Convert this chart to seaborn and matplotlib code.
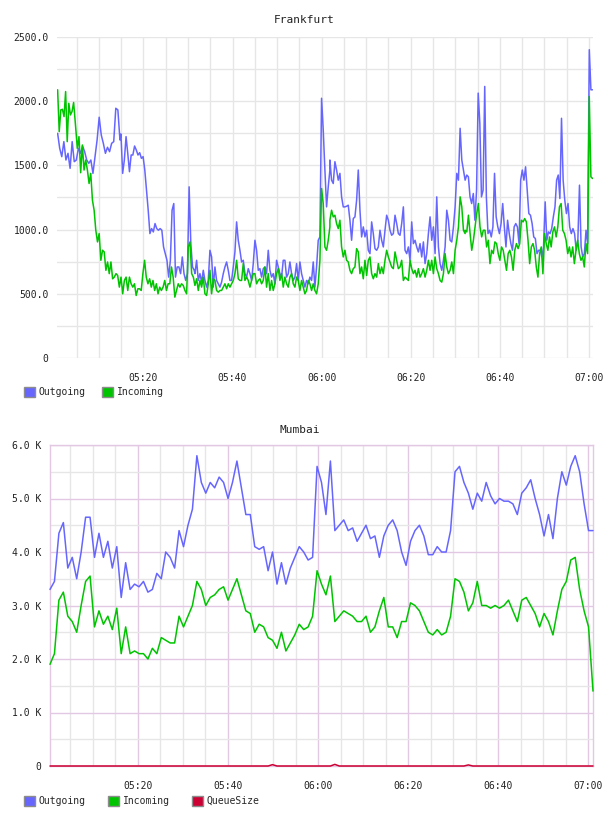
import numpy as np
import pandas as pd
import matplotlib
matplotlib.use("Agg")
import matplotlib.pyplot as plt
import matplotlib.dates as mdates
from matplotlib.ticker import MultipleLocator, FuncFormatter
from matplotlib.patches import Patch
import seaborn as sns

# ---------------- data ----------------
fra_title = "Frankfurt"
mum_title = "Mumbai"
series_names = ["Outgoing", "Incoming", "QueueSize"]
series_colors = ["#6666ff", "#00c400", "#cc0033"]

# Frankfurt: readings in segments, each with (first, last) minute after 05:00
fra_out_1a_span = (0.74, 14.73)
fra_out_1a = [1750, 1633, 1568, 1685, 1542, 1594, 1477, 1685, 1529, 1542,
              1633, 1594, 1651, 1607, 1542, 1516, 1542, 1438, 1568, 1698,
              1875, 1737, 1672, 1594, 1641, 1607, 1672, 1685, 1945, 1932, 1698]
fra_out_1b_span = (14.95, 31.4)
fra_out_1b = [1745, 1438, 1542, 1724, 1594, 1451, 1581, 1581, 1651, 1620, 1581,
              1599, 1555, 1568, 1464, 1307, 1151, 969, 1008, 982, 1047, 1008, 995,
              1008, 995, 865, 813, 761, 630, 761, 1151, 1203, 630, 709, 709, 657,
              787, 657, 604, 657, 1333, 891, 709, 683]
fra_in_1a_span = (0.74, 4.33)
fra_in_1a = [2089, 1763, 1932, 1937, 1880, 2075, 1685, 1984, 1893, 1919, 1990]
fra_in_1b_span = (4.78, 31.2)
fra_in_1b = [1802, 1633, 1724, 1443, 1659, 1464, 1542, 1464, 1359, 1438, 1229,
             1151, 995, 904, 969, 761, 839, 826, 683, 748, 657, 748, 617, 630, 657,
             643, 552, 630, 500, 604, 630, 526, 630, 578, 552, 578, 487, 539, 539,
             526, 657, 761, 630, 578, 617, 552, 604, 526, 578, 500, 552, 526, 552,
             604, 526, 578, 578, 709, 630, 474, 526, 578, 552, 578, 565, 526, 500,
             865, 904, 657, 630]

fra_2_span = (31.56, 61.85)
fra_out_2 = [657, 761, 604, 657, 591, 683, 604, 552, 604, 839, 787, 552, 709, 604,
             578, 552, 591, 657, 709, 748, 683, 604, 604, 709, 826, 1060, 917, 839,
             748, 761, 657, 630, 696, 657, 604, 735, 917, 839, 683, 696, 630, 696,
             709, 657, 839, 683, 630, 657, 578, 761, 709, 657, 630, 761, 761, 630,
             657, 748, 657, 604, 630, 735, 604, 748, 657, 604, 552, 604, 578, 630,
             604, 748, 552, 709, 917, 943, 2023, 1776, 1464, 1177, 1333, 1464]
fra_in_2 = [565, 617, 526, 604, 552, 630, 500, 487, 578, 683, 500, 617, 604, 526,
            513, 526, 526, 552, 578, 539, 578, 552, 578, 604, 657, 761, 617, 604,
            604, 735, 604, 630, 604, 552, 604, 657, 657, 578, 604, 617, 578, 604,
            709, 552, 657, 526, 604, 526, 578, 657, 696, 604, 657, 552, 630, 578,
            552, 630, 657, 578, 552, 630, 604, 526, 604, 552, 500, 526, 604, 578,
            526, 578, 526, 500, 578, 761, 1320, 1203, 865, 839, 917, 1021]

fra_3_span = (61.85, 92.2)
fra_out_3 = [1542, 1385, 1359, 1529, 1464, 1385, 1438, 1255, 1177, 1177, 1182, 1190,
             1073, 917, 1086, 1099, 1229, 1464, 1151, 943, 1021, 943, 995, 839, 813,
             1060, 969, 852, 839, 865, 995, 917, 865, 995, 1112, 1073, 995, 956, 969,
             1112, 1047, 969, 956, 1047, 1177, 839, 813, 865, 761, 1060, 891, 917, 865,
             826, 891, 787, 904, 735, 813, 969, 1099, 917, 1021, 813, 1255, 865, 735,
             683, 761, 865, 1151, 1073, 917, 904, 1021, 1177, 1438, 1385, 1789, 1542,
             1464, 1385]
fra_in_3 = [1073, 1151, 1099, 1112, 1047, 1008, 1073, 865, 787, 839, 761, 748, 683,
            657, 696, 709, 852, 826, 657, 709, 617, 761, 643, 761, 787, 657, 617, 657,
            630, 735, 657, 709, 657, 761, 839, 787, 748, 709, 696, 826, 761, 696, 709,
            761, 604, 630, 617, 604, 761, 696, 657, 683, 630, 696, 630, 657, 696, 630,
            683, 761, 683, 761, 657, 787, 696, 657, 604, 591, 657, 813, 709, 657, 683,
            748, 657, 839, 917, 1021, 1255, 1177, 995, 969]

fra_4_span = (92.2, 120.8)
fra_out_4 = [1385, 1425, 1411, 1255, 1203, 1281, 1073, 1307, 2063, 1828, 1255, 1307,
             2115, 1255, 969, 995, 943, 1021, 1438, 1099, 1021, 969, 1047, 1203, 1021,
             865, 1073, 969, 891, 839, 1021, 1047, 1021, 891, 1385, 1464, 1385, 1489,
             1307, 1125, 1112, 1047, 943, 930, 813, 839, 839, 787, 865, 1216, 917, 982,
             969, 1008, 1099, 1177, 1385, 1425, 1242, 1867, 1385, 1229, 1125, 1203,
             1021, 969, 1008, 969, 839, 917, 1346, 865, 787, 813, 995, 891, 2401, 2089,
             2089]
fra_in_4 = [995, 982, 1112, 969, 839, 917, 1021, 1125, 1203, 1021, 943, 995, 995, 865,
            917, 735, 839, 813, 904, 891, 813, 761, 865, 839, 761, 683, 813, 839, 787,
            683, 839, 891, 852, 891, 1073, 1060, 1086, 1060, 917, 735, 865, 891, 839,
            709, 630, 813, 865, 656, 969, 891, 839, 943, 865, 982, 1021, 943, 1021,
            1177, 1203, 995, 969, 917, 813, 865, 787, 865, 735, 839, 917, 813, 761,
            787, 709, 891, 813, 2037, 1411, 1398]

# Mumbai: (first, last) minute after 05:00
mum_span = (0.45, 121.1)
mum_out = [
    3300, 3450, 4350, 4550, 3700, 3900, 3500, 4000, 4650, 4650, 3900, 4350, 3900, 4200,
    3700, 4100, 3150, 3800, 3300, 3400, 3350, 3450, 3250, 3300, 3600, 3500, 4000, 3900,
    3700, 4400, 4100, 4500, 4800, 5800, 5300, 5100, 5300, 5200, 5400, 5300, 5000, 5300,
    5700, 5200, 4700, 4700, 4100, 4050, 4100, 3650, 4000, 3400, 3800, 3400, 3700, 3900,
    4100, 4000, 3850, 3900, 5600, 5300, 4700, 5700, 4400, 4500, 4600, 4400, 4450, 4200,
    4350, 4500, 4250, 4300, 3900, 4300, 4500, 4600, 4400, 4000, 3750, 4200, 4400, 4500,
    4300, 3950, 3950, 4100, 4000, 4000, 4400, 5500, 5600, 5300, 5100, 4800, 5100, 4950,
    5300, 5050, 4900, 5000, 4950, 4950, 4900, 4700, 5100, 5200, 5350, 5000, 4700, 4300,
    4700, 4250, 5000, 5500, 5250, 5600, 5800, 5500, 4900, 4400, 4400,
]
mum_in = [
    1900, 2100, 3100, 3250, 2800, 2700, 2500, 3000, 3450, 3550, 2600, 2900, 2650, 2800,
    2550, 2950, 2100, 2600, 2100, 2150, 2100, 2100, 2000, 2200, 2100, 2400, 2350, 2300,
    2300, 2800, 2600, 2800, 3000, 3450, 3300, 3000, 3150, 3200, 3300, 3350, 3100, 3300,
    3500, 3200, 2900, 2850, 2500, 2650, 2600, 2400, 2350, 2200, 2500, 2150, 2300, 2450,
    2650, 2550, 2600, 2800, 3650, 3400, 3200, 3550, 2700, 2800, 2900, 2850, 2800, 2700,
    2700, 2800, 2500, 2600, 2900, 3150, 2600, 2600, 2400, 2700, 2700, 3050, 3000, 2900,
    2700, 2500, 2450, 2550, 2450, 2500, 2800, 3500, 3450, 3250, 2900, 3050, 3450, 3000,
    3000, 2950, 3000, 2950, 3000, 3100, 2900, 2700, 3100, 3150, 3000, 2850, 2600, 2850,
    2700, 2450, 2900, 3300, 3450, 3850, 3900, 3300, 2900, 2600, 1400,
]
mum_queue = [
    0, 0, 0, 0, 0, 0, 0, 0, 0, 0, 0, 0, 0, 0, 0, 0, 0, 0, 0, 0, 0, 0, 0, 0, 0, 0, 0, 0,
    0, 0, 0, 0, 0, 0, 0, 0, 0, 0, 0, 0, 0, 0, 0, 0, 0, 0, 0, 0, 0, 0, 25, 0, 0, 0, 0, 0,
    0, 0, 0, 0, 0, 0, 0, 0, 30, 0, 0, 0, 0, 0, 0, 0, 0, 0, 0, 0, 0, 0, 0, 0, 0, 0, 0, 0,
    0, 0, 0, 0, 0, 0, 0, 0, 0, 0, 20, 0, 0, 0, 0, 0, 0, 0, 0, 0, 0, 0, 0, 0, 0, 0, 0, 0,
    0, 0, 0, 0, 0, 0, 0, 0, 0, 0, 0,
]

base = pd.Timestamp("2024-01-01 05:00")


def segment(span, vals, name):
    t = base + pd.to_timedelta(np.linspace(span[0], span[1], len(vals)), unit="min")
    return pd.DataFrame({"time": t, "value": vals, "series": name})


fra_df = pd.concat([
    segment(fra_out_1a_span, fra_out_1a, "Outgoing"),
    segment(fra_out_1b_span, fra_out_1b, "Outgoing"),
    segment(fra_2_span, fra_out_2, "Outgoing"),
    segment(fra_3_span, fra_out_3, "Outgoing"),
    segment(fra_4_span, fra_out_4, "Outgoing"),
    segment(fra_in_1a_span, fra_in_1a, "Incoming"),
    segment(fra_in_1b_span, fra_in_1b, "Incoming"),
    segment(fra_2_span, fra_in_2, "Incoming"),
    segment(fra_3_span, fra_in_3, "Incoming"),
    segment(fra_4_span, fra_in_4, "Incoming"),
], ignore_index=True)
mum_df = pd.concat([
    segment(mum_span, mum_out, "Outgoing"),
    segment(mum_span, mum_in, "Incoming"),
    segment(mum_span, mum_queue, "QueueSize"),
], ignore_index=True)

# ---------------- style ----------------
sns.set_style("white")
plt.rcParams["font.family"] = ["DejaVu Sans Mono", "DejaVu Sans"]
plt.rcParams["font.size"] = 7

W, H = 608, 816
fig = plt.figure(figsize=(W / 100, H / 100), dpi=100)
ax1 = fig.add_axes([57 / W, 1 - 358 / H, 536 / W, 321 / H])
ax2 = fig.add_axes([50 / W, 1 - 766 / H, 543 / W, 321 / H])

palette = dict(zip(series_names, series_colors))

sns.lineplot(data=fra_df, x="time", y="value", hue="series", palette=palette,
             estimator=None, sort=True, lw=1.1, ax=ax1, legend=False, zorder=3)
sns.lineplot(data=mum_df, x="time", y="value", hue="series", palette=palette,
             estimator=None, sort=True, lw=1.1, ax=ax2, legend=False, zorder=3)
for ln in ax2.get_lines():
    ln.set_clip_on(False)

grid_grey = "#e6e6e6"
grid_pink = "#e2c8e2"

for ax, t0, t1 in [(ax1, 0.6, 120.9), (ax2, mum_span[0], mum_span[1])]:
    ax.set_xlim(base + pd.Timedelta(minutes=t0), base + pd.Timedelta(minutes=t1))
    ax.xaxis.set_major_locator(mdates.MinuteLocator(byminute=[0, 20, 40]))
    ax.xaxis.set_minor_locator(mdates.MinuteLocator(byminute=list(range(0, 60, 5))))
    ax.xaxis.set_major_formatter(mdates.DateFormatter("%H:%M"))
    ax.set_xlabel("")
    ax.set_ylabel("")
    ax.tick_params(axis="both", which="both", length=0, labelsize=7, colors="#222222")
    ax.tick_params(axis="x", pad=11)
    ax.tick_params(axis="y", pad=6)
    ax.set_axisbelow(True)

# Frankfurt axes
ax1.set_ylim(0, 2500)
ax1.yaxis.set_major_locator(MultipleLocator(500))
ax1.yaxis.set_minor_locator(MultipleLocator(250))
ax1.yaxis.set_major_formatter(FuncFormatter(lambda v, p: "0" if v == 0 else f"{v:.1f}"))
ax1.grid(True, which="both", color=grid_grey, lw=1)
for s in ax1.spines.values():
    s.set_visible(False)

# Mumbai axes
ax2.set_ylim(0, 6000)
ax2.yaxis.set_major_locator(MultipleLocator(1000))
ax2.yaxis.set_minor_locator(MultipleLocator(500))
ax2.yaxis.set_major_formatter(FuncFormatter(lambda v, p: "0" if v == 0 else f"{v/1000:.1f} K"))
ax2.grid(True, which="minor", color=grid_grey, lw=1)
ax2.grid(True, which="major", color=grid_pink, lw=1)
for s in ax2.spines.values():
    s.set_visible(True)
    s.set_color(grid_pink)
    s.set_linewidth(1)

fig.text(304 / W, 1 - 20 / H, fra_title, ha="center", va="center", fontsize=8, color="#222222")
fig.text(300 / W, 1 - 430 / H, mum_title, ha="center", va="center", fontsize=8, color="#222222")


def add_legend(names, y_px, colsp):
    handles = [Patch(facecolor=palette[n], edgecolor="#8c8c8c", lw=1, label=n) for n in names]
    fig.legend(handles=handles, loc="upper left", bbox_to_anchor=(24 / W, 1 - y_px / H),
               ncol=len(names), frameon=False, fontsize=7, handlelength=1.15,
               handleheight=1.15, handletextpad=0.35, columnspacing=colsp,
               borderaxespad=0, borderpad=0)


add_legend(["Outgoing", "Incoming"], 387, 1.7)
add_legend(["Outgoing", "Incoming", "QueueSize"], 796, 2.3)

fig.savefig("out.png", dpi=100, facecolor="white")
